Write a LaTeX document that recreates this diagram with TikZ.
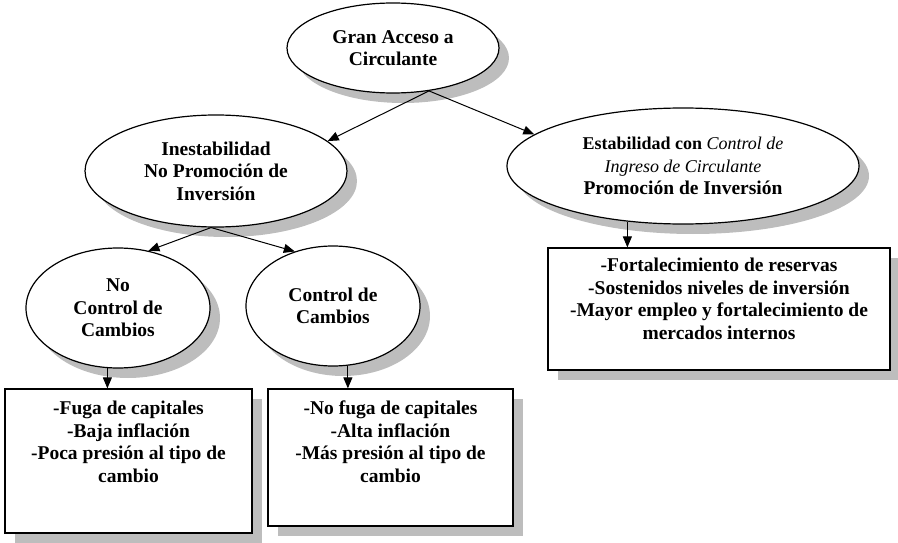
\documentclass[tikz,border=0pt]{standalone}
\usepackage{fontspec}
\setmainfont{Liberation Serif}
\usetikzlibrary{shapes.geometric, arrows.meta, shadows, calc}
\definecolor{shade}{HTML}{BDBDBD}

\begin{document}
\begin{tikzpicture}[x=1pt, y=-1pt,
  font=\bfseries\fontsize{19.5}{22.5}\selectfont,
  bubble/.style={ellipse, draw=black, line width=1.2pt, fill=white, inner sep=0pt, align=center,
    drop shadow={shadow xshift=10pt, shadow yshift=-10pt, fill=shade, opacity=1}},
  panel/.style={rectangle, draw=black, line width=1.2pt, fill=white, inner sep=0pt,
    drop shadow={shadow xshift=10pt, shadow yshift=-10pt, fill=shade, opacity=1}},
  arr/.style={-{Triangle[length=11pt, width=9pt]}, line width=1pt}]
  \useasboundingbox (0,0) rectangle (898,543);
  % Ellipses
  \node[bubble, minimum width=212pt, minimum height=90pt] (gran) at (393,48) {Gran Acceso a\\Circulante};
  \node[bubble, minimum width=262pt, minimum height=112pt] (ines) at (216,171) {Inestabilidad\\No Promoción de\\Inversión};
  \node[bubble, minimum width=352pt, minimum height=116pt] (estab) at (683,166)
    {{\fontsize{18}{23}\selectfont Estabilidad con {\mdseries\itshape Control de}}\\
     {\fontsize{18}{23}\selectfont\mdseries\itshape Ingreso de Circulante}\\
     Promoción de Inversión};
  \node[bubble, minimum width=184pt, minimum height=120pt] (noctrl) at (118,308) {No\\Control de\\Cambios};
  \node[bubble, minimum width=174pt, minimum height=120pt] (ctrl) at (333,306) {Control de\\Cambios};
  % Boxes
  \node[panel, minimum width=247pt, minimum height=144pt] (fuga) at (128.5,461)
    {\parbox[c][144pt][t]{240pt}{\centering\vspace*{12pt}-Fuga de capitales\\-Baja inflación\\-Poca presión al tipo de\\cambio}};
  \node[panel, minimum width=245pt, minimum height=137pt] (nofuga) at (390.5,457.5)
    {\parbox[c][137pt][t]{238pt}{\centering\vspace*{12pt}-No fuga de capitales\\-Alta inflación\\-Más presión al tipo de\\cambio}};
  \node[panel, minimum width=342pt, minimum height=122pt] (reservas) at (719,309)
    {\parbox[c][122pt][t]{336pt}{\centering\vspace*{10pt}-Fortalecimiento de reservas\\-Sostenidos niveles de inversión\\-Mayor empleo y fortalecimiento de\\mercados internos}};
  % Arrows
  \draw[arr] (gran.-50) -- (ines.15);
  \draw[arr] (gran.-50) -- (estab.168);
  \draw[arr] (ines.-95) -- (noctrl.62);
  \draw[arr] (ines.-95) -- (ctrl.125);
  \draw[arr] (noctrl.-100) -- (noctrl.-100 |- fuga.north);
  \draw[arr] (ctrl.-76) -- (ctrl.-76 |- nofuga.north);
  \draw[arr] (estab.-135) -- (estab.-135 |- reservas.north);
\end{tikzpicture}
\end{document}
